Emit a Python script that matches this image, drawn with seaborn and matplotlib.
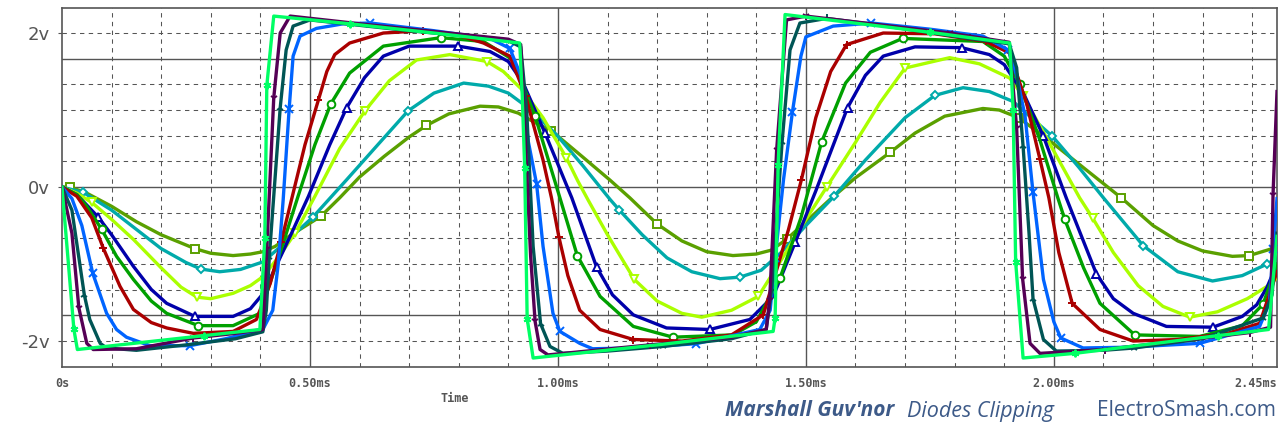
import matplotlib
matplotlib.use("Agg")
import matplotlib.pyplot as plt
import seaborn as sns
import pandas as pd

# ---------------- data (time in ms, voltage in V) ----------------
t_olive = [0.0, 0.016, 0.05, 0.10, 0.15, 0.20, 0.268, 0.30, 0.345, 0.38, 0.405, 0.43, 0.46, 0.522, 0.56, 0.60,
           0.65, 0.70, 0.735, 0.78, 0.843, 0.88, 0.92, 0.95, 0.987, 1.05, 1.105, 1.145, 1.20, 1.25, 1.30, 1.353,
           1.40, 1.43, 1.461, 1.50, 1.548, 1.60, 1.67, 1.72, 1.78, 1.857, 1.89, 1.929, 1.99, 2.06, 2.136, 2.20,
           2.25, 2.30, 2.36, 2.394, 2.43, 2.45]
v_olive = [0.0, 0.0, -0.08, -0.25, -0.45, -0.62, -0.80, -0.86, -0.89, -0.87, -0.84, -0.77, -0.63, -0.38, -0.14, 0.13,
           0.40, 0.65, 0.80, 0.95, 1.05, 1.04, 0.96, 0.85, 0.73, 0.39, 0.09, -0.14, -0.48, -0.70, -0.84, -0.89,
           -0.87, -0.82, -0.68, -0.45, -0.165, 0.12, 0.45, 0.70, 0.92, 1.02, 1.00, 0.90, 0.61, 0.25, -0.14, -0.50,
           -0.70, -0.83, -0.90, -0.89, -0.82, -0.78]

t_teal = [0.0, 0.043, 0.10, 0.15, 0.20, 0.25, 0.28, 0.318, 0.36, 0.406, 0.45, 0.506, 0.574, 0.63, 0.698, 0.75,
          0.81, 0.86, 0.90, 0.944, 0.997, 1.05, 1.105, 1.124, 1.17, 1.22, 1.27, 1.327, 1.367, 1.41, 1.45, 1.50,
          1.557, 1.62, 1.70, 1.76, 1.817, 1.87, 1.918, 1.997, 2.05, 2.10, 2.18, 2.25, 2.32, 2.38, 2.43, 2.45]
v_teal = [0.0, -0.07, -0.30, -0.55, -0.80, -0.98, -1.065, -1.10, -1.07, -0.97, -0.72, -0.39, 0.095, 0.50, 0.99, 1.22,
          1.35, 1.31, 1.22, 1.01, 0.68, 0.28, -0.16, -0.30, -0.62, -0.92, -1.10, -1.19, -1.17, -1.08, -0.85, -0.50,
          -0.12, 0.35, 0.90, 1.19, 1.29, 1.24, 1.11, 0.66, 0.26, -0.14, -0.76, -1.10, -1.22, -1.15, -1.00, -0.92]

t_yellow = [0.0, 0.03, 0.06, 0.10, 0.144, 0.20, 0.24, 0.272, 0.30, 0.345, 0.38, 0.406, 0.44, 0.47, 0.51, 0.56,
            0.611, 0.66, 0.715, 0.782, 0.857, 0.89, 0.93, 0.97, 1.017, 1.04, 1.061, 1.10, 1.154, 1.20, 1.25, 1.29,
            1.35, 1.404, 1.45, 1.50, 1.542, 1.60, 1.65, 1.70, 1.79, 1.85, 1.911, 1.938, 1.98, 2.052, 2.078, 2.12,
            2.17, 2.22, 2.274, 2.33, 2.39, 2.43, 2.45]
v_yellow = [0.0, -0.08, -0.20, -0.42, -0.68, -1.05, -1.30, -1.43, -1.45, -1.38, -1.28, -1.16, -0.88, -0.60, -0.12, 0.50,
            0.99, 1.38, 1.65, 1.72, 1.63, 1.50, 1.25, 0.90, 0.38, 0.08, -0.17, -0.62, -1.20, -1.48, -1.64, -1.69,
            -1.60, -1.42, -0.95, -0.42, 0.0, 0.58, 1.10, 1.545, 1.68, 1.60, 1.415, 1.18, 0.70, -0.14, -0.40, -0.85,
            -1.28, -1.55, -1.69, -1.62, -1.45, -1.29, -1.18]

t_navy = [0.0, 0.03, 0.073, 0.10, 0.144, 0.18, 0.211, 0.268, 0.345, 0.38, 0.406, 0.43, 0.46, 0.497, 0.54, 0.574,
          0.61, 0.648, 0.70, 0.799, 0.863, 0.90, 0.93, 0.974, 1.028, 1.078, 1.11, 1.152, 1.219, 1.306, 1.387,
          1.434, 1.479, 1.52, 1.584, 1.62, 1.656, 1.72, 1.814, 1.87, 1.90, 1.94, 1.979, 2.025, 2.086, 2.12, 2.16,
          2.227, 2.321, 2.38, 2.409, 2.43, 2.45]
v_navy = [0.0, -0.10, -0.39, -0.62, -1.03, -1.33, -1.51, -1.68, -1.68, -1.58, -1.38, -1.05, -0.64, -0.12, 0.55, 1.03,
          1.42, 1.70, 1.83, 1.83, 1.76, 1.63, 1.35, 0.70, -0.14, -1.04, -1.40, -1.66, -1.83, -1.85, -1.72,
          -1.42, -0.71, -0.05, 1.03, 1.45, 1.70, 1.82, 1.81, 1.72, 1.59, 1.20, 0.66, -0.14, -1.13, -1.45, -1.64,
          -1.81, -1.82, -1.68, -1.53, -1.30, -1.00]

t_green = [0.0, 0.03, 0.05, 0.08, 0.11, 0.144, 0.18, 0.211, 0.275, 0.345, 0.399, 0.44, 0.476, 0.51, 0.542, 0.58,
           0.648, 0.764, 0.85, 0.91, 0.954, 1.004, 1.039, 1.085, 1.152, 1.232, 1.353, 1.40, 1.448, 1.49, 1.532,
           1.58, 1.63, 1.695, 1.857, 1.90, 1.931, 1.972, 2.008, 2.022, 2.06, 2.093, 2.163, 2.294, 2.38, 2.422, 2.45]
v_green = [0.0, -0.10, -0.25, -0.55, -0.90, -1.20, -1.48, -1.64, -1.80, -1.80, -1.64, -0.85, -0.12, 0.55, 1.08, 1.48,
           1.83, 1.94, 1.89, 1.65, 0.92, -0.14, -0.89, -1.42, -1.81, -1.95, -1.92, -1.75, -1.18, -0.40, 0.59,
           1.35, 1.75, 1.93, 1.89, 1.70, 1.34, 0.61, -0.14, -0.42, -1.05, -1.51, -1.92, -1.94, -1.80, -1.52, -1.00]

t_red = [0.0, 0.03, 0.06, 0.083, 0.117, 0.144, 0.18, 0.211, 0.265, 0.345, 0.392, 0.42, 0.442, 0.466, 0.49, 0.517,
         0.534, 0.55, 0.58, 0.648, 0.727, 0.80, 0.85, 0.903, 0.935, 0.97, 0.987, 1.002, 1.02, 1.044, 1.085, 1.152,
         1.25, 1.35, 1.414, 1.44, 1.465, 1.491, 1.52, 1.55, 1.582, 1.656, 1.76, 1.863, 1.911, 1.945, 1.972, 1.99,
         2.01, 2.037, 2.093, 2.16, 2.25, 2.35, 2.415, 2.45]
v_red = [0.0, -0.12, -0.40, -0.79, -1.29, -1.59, -1.76, -1.83, -1.90, -1.875, -1.72, -1.25, -0.71, -0.08, 0.55, 1.13,
         1.50, 1.72, 1.87, 2.00, 2.03, 1.97, 1.87, 1.70, 1.18, 0.35, -0.14, -0.65, -1.15, -1.60, -1.85, -1.98,
         -2.00, -1.92, -1.66, -1.10, -0.55, 0.095, 0.90, 1.50, 1.85, 2.00, 1.99, 1.89, 1.74, 1.09, 0.36, -0.14,
         -0.85, -1.51, -1.85, -2.00, -1.98, -1.90, -1.77, -1.10]

t_blue = [0.0, 0.02, 0.04, 0.062, 0.09, 0.11, 0.13, 0.177, 0.258, 0.33, 0.405, 0.425, 0.436, 0.446, 0.458, 0.466,
          0.48, 0.513, 0.567, 0.622, 0.75, 0.863, 0.903, 0.925, 0.94, 0.957, 0.97, 0.99, 1.004, 1.044, 1.07, 1.15,
          1.278, 1.407, 1.428, 1.438, 1.455, 1.473, 1.49, 1.50, 1.555, 1.632, 1.75, 1.857, 1.908, 1.925, 1.942,
          1.958, 1.979, 2.0, 2.014, 2.059, 2.15, 2.294, 2.415, 2.435, 2.442, 2.45]
v_blue = [0.0, -0.15, -0.50, -1.12, -1.64, -1.85, -1.95, -2.06, -2.06, -1.97, -1.85, -1.60, -1.00, -0.165, 1.01, 1.70,
          1.96, 2.06, 2.12, 2.13, 2.03, 1.93, 1.80, 1.45, 0.60, 0.04, -0.77, -1.64, -1.875, -2.03, -2.10, -2.09,
          -2.035, -1.85, -1.60, -0.92, 0.10, 0.98, 1.70, 1.95, 2.09, 2.13, 2.05, 1.96, 1.78, 1.45, 0.92,
          -0.07, -1.20, -1.75, -1.96, -2.09, -2.08, -2.03, -1.81, -1.50, -0.80, -0.15]

t_dteal = [0.0, 0.02, 0.045, 0.056, 0.077, 0.09, 0.15, 0.25, 0.35, 0.405, 0.412, 0.418, 0.44, 0.452, 0.466, 0.50,
           0.60, 0.70, 0.80, 0.90, 0.925, 0.937, 0.95, 0.965, 0.984, 1.01, 1.10, 1.212, 1.35, 1.42, 1.431, 1.452,
           1.468, 1.488, 1.542, 1.65, 1.83, 1.91, 1.925, 1.938, 1.95, 1.958, 1.979, 2.005, 2.10, 2.162, 2.30,
           2.422, 2.44, 2.45]
v_dteal = [0.0, -0.30, -1.40, -1.72, -2.03, -2.09, -2.12, -2.05, -1.97, -1.88, -1.60, -0.91, 1.03, 1.78, 2.09, 2.17,
           2.10, 2.03, 1.97, 1.90, 1.82, 1.00, -0.77, -1.775, -2.07, -2.16, -2.13, -2.07, -1.97, -1.85, -1.33, 0.58,
           1.78, 2.13, 2.19, 2.10, 1.93, 1.86, 1.55, 0.53, -0.60, -1.45, -1.98, -2.13, -2.12, -2.09, -1.97,
           -1.70, -1.40, -0.60]

t_purple = [0.0, 0.02, 0.034, 0.05, 0.063, 0.15, 0.265, 0.35, 0.405, 0.413, 0.427, 0.44, 0.46, 0.60, 0.75, 0.90,
            0.925, 0.935, 0.945, 0.954, 0.964, 0.98, 1.185, 1.35, 1.42, 1.427, 1.441, 1.461, 1.50, 1.79, 1.91,
            1.925, 1.937, 1.952, 1.972, 2.103, 2.395, 2.437, 2.442, 2.45]
v_purple = [0.0, -0.60, -1.57, -2.03, -2.11, -2.10, -1.96, -1.90, -1.85, -0.80, 1.16, 2.00, 2.22, 2.12, 2.02, 1.92,
            1.85, 0.50, -0.90, -1.745, -2.11, -2.18, -2.05, -1.95, -1.85, -1.47, 0.475, 2.17, 2.22, 2.00, 1.88,
            0.77, -1.19, -2.03, -2.16, -2.11, -1.89, -1.82, -0.10, 1.24]

t_lime = [0.0, 0.024, 0.031, 0.286, 0.399, 0.409, 0.413, 0.427, 0.58, 0.75, 0.923, 0.928, 0.933, 0.938, 0.95, 1.20,
          1.434, 1.438, 1.444, 1.458, 1.75, 1.911, 1.918, 1.923, 1.938, 2.042, 2.331, 2.433, 2.45]
v_lime = [0.0, -1.85, -2.11, -1.93, -1.85, -0.66, 1.32, 2.22, 2.12, 2.00, 1.87, 1.20, 0.25, -1.71, -2.22, -2.05,
          -1.875, -1.70, 0.29, 2.24, 2.01, 1.87, 1.00, -0.97, -2.22, -2.16, -1.93, -1.85, -0.64]

y_ticks = [2, 0, -2]
y_labels = ["2v", "0v", "-2v"]
x_ticks = [0.0, 0.5, 1.0, 1.5, 2.0, 2.45]
x_labels = ["0s", "0.50ms", "1.00ms", "1.50ms", "2.00ms", "2.45ms"]

# ---------------- styling ----------------
series = [
    (t_olive, v_olive, "#5aa000", "s", [1, 6, 13, 18, 24, 28, 34, 38, 43, 46, 51]),
    (t_teal, v_teal, "#00aaaa", "D", [1, 6, 11, 14, 19, 23, 28, 32, 35, 39, 42, 46]),
    (t_yellow, v_yellow, "#aaff00", "v", [2, 7, 13, 16, 20, 24, 28, 33, 36, 39, 43, 46, 50]),
    (t_navy, v_navy, "#0000aa", "^", [2, 7, 15, 19, 23, 25, 29, 32, 34, 38, 42, 44, 48]),
    (t_green, v_green, "#00a000", "o", [3, 8, 14, 17, 20, 22, 25, 28, 30, 33, 36, 39, 42, 45]),
    (t_red, v_red, "#aa0000", "+", [3, 12, 15, 20, 24, 27, 31, 34, 37, 40, 43, 46, 49]),
    (t_blue, v_blue, "#0064ff", "x", [3, 8, 14, 19, 22, 25, 28, 32, 35, 37, 41, 44, 47, 50, 53, 56]),
    (t_dteal, v_dteal, "#005555", "2", [2, 11, 12, 23, 27, 30, 31, 34, 36, 39, 41, 45, 47]),
    (t_purple, v_purple, "#550055", "1", [2, 6, 9, 10, 19, 22, 25, 26, 28, 29, 31, 32, 35, 36, 38]),
    (t_lime, v_lime, "#00ff64", (6, 2, 0), [1, 3, 5, 6, 8, 12, 13, 17, 18, 20, 22, 23, 25, 26]),
]

W, H = 1281, 428
fig = plt.figure(figsize=(W / 100, H / 100), dpi=100)
ax = fig.add_axes([62 / W, 1 - 367 / H, (1277 - 62) / W, (367 - 8) / H])
ax.set_xlim(0, 2.45)
ax.set_ylim(-2.337, 2.325)

grid_c = "#555555"
for k in range(-7, 8):
    yv = k / 3.0
    if k in (-5, 0, 5):
        ax.axhline(yv, color=grid_c, lw=1.0, zorder=0.5)
    else:
        ax.axhline(yv, color=grid_c, lw=0.75, ls=(0, (4.2, 4.2)), zorder=0.5)
for k in range(1, 25):
    xv = k / 10.0
    if k % 5 == 0:
        ax.axvline(xv, color=grid_c, lw=1.0, zorder=0.5)
    else:
        ax.axvline(xv, color=grid_c, lw=0.75, ls=(0, (4.2, 4.2)), zorder=0.5)

for i, (tt, vv, col, mk, mev) in enumerate(series):
    df = pd.DataFrame({"t": tt, "v": vv})
    hollow = mk in ("s", "D", "v", "^", "o")
    sns.lineplot(data=df, x="t", y="v", ax=ax, color=col, lw=2.4, sort=False, estimator=None,
                 marker=mk, markevery=mev, markersize=5.5 if mk != "D" else 4.5,
                 markeredgecolor=col, markeredgewidth=1.4,
                 markerfacecolor="white" if hollow else col,
                 zorder=2 + i)

for s in ax.spines.values():
    s.set_color(grid_c)
    s.set_linewidth(1.2)

ax.set_yticks(y_ticks)
ax.set_yticklabels(y_labels, fontsize=13, color="#555555", family="DejaVu Sans")
ax.tick_params(axis="y", length=3, color=grid_c, pad=6)
ax.set_xticks(x_ticks)
ax.set_xticklabels(x_labels, fontsize=8.5, color="#555555", family="DejaVu Sans Mono", weight="bold")
ax.tick_params(axis="x", length=0, pad=7)
lbls = ax.get_xticklabels()
lbls[-1].set_horizontalalignment("right")
ax.set_xlabel("")
ax.set_ylabel("")

fig.text(455 / W, 1 - 398 / H, "Time", fontsize=8.5, color="#555555", family="DejaVu Sans Mono",
         weight="bold", ha="center", va="center")

tc = "#3d5a88"
fig.text(725 / W, 1 - 411 / H, "Marshall Guv'nor", fontsize=15, color=tc,
         family=["Open Sans", "Noto Sans", "DejaVu Sans"],
         style="italic", weight="bold", ha="left", va="center")
fig.text(907 / W, 1 - 411 / H, "Diodes Clipping", fontsize=15.5, color=tc,
         family=["Open Sans", "Noto Sans", "DejaVu Sans"],
         style="italic", ha="left", va="center")
fig.text(1276 / W, 1 - 411 / H, "ElectroSmash.com", fontsize=15, color=tc,
         family=["Open Sans", "Noto Sans", "DejaVu Sans"],
         ha="right", va="center")

fig.savefig("out.png", dpi=100)
